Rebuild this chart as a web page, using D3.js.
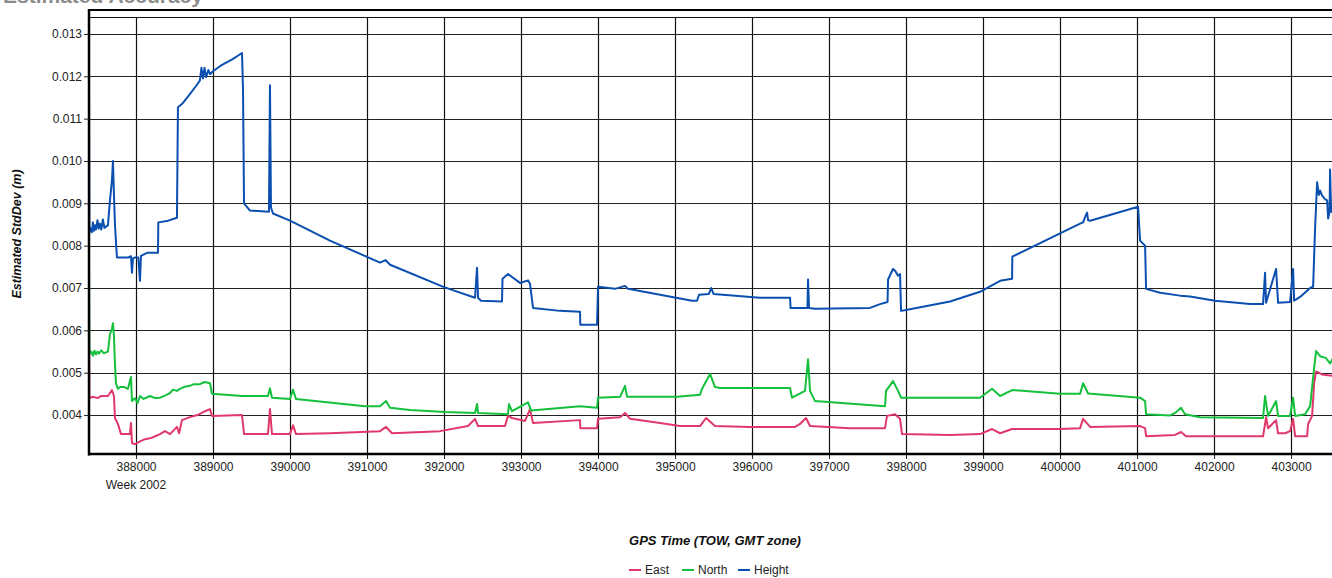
<!DOCTYPE html>
<html><head><meta charset="utf-8">
<script src="https://cdn.jsdelivr.net/npm/d3@7/dist/d3.min.js"></script>
<style>html,body{margin:0;padding:0;background:#fff;overflow:hidden}svg{display:block}text{font-family:"Liberation Sans",Arial,sans-serif}</style>
</head><body><svg id="c" width="1332" height="578"></svg>
<script>
// ---- data ----
const seriesNames = ["East", "North", "Height"];
const seriesColors = ["#e0386a", "#15c03c", "#0b4fb0"];
const xTicks = [388000,389000,390000,391000,392000,393000,394000,395000,396000,397000,398000,399000,400000,401000,402000,403000];
const yTicks = [0.004,0.005,0.006,0.007,0.008,0.009,0.010,0.011,0.012,0.013];
const weekLabel = "Week 2002";

const heightData = [
[387390,0.01219],[387395,0.0083],[387403,0.00843],[387429,0.00832],[387440,0.00855],[387455,0.00835],[387468,0.00848],[387480,0.00838],[387500,0.0086],[387515,0.0084],[387532,0.00852],[387550,0.00838],[387570,0.00862],[387590,0.00842],[387610,0.00845],[387636,0.00848],[387662,0.00907],[387675,0.0093],[387688,0.00954],[387701,0.0100],[387714,0.0092],[387727,0.0085],[387740,0.0081],[387753,0.00772],[387900,0.00772],[387935,0.00775],[387948,0.00736],[387961,0.0077],[387987,0.00772],[388030,0.00772],[388052,0.00717],[388065,0.00776],[388143,0.00783],[388286,0.00783],[388290,0.00855],[388400,0.00858],[388532,0.00866],[388545,0.01127],[388600,0.01135],[388700,0.01158],[388792,0.0118],[388830,0.0119],[388850,0.0122],[388870,0.01195],[388890,0.0122],[388910,0.01198],[388940,0.01215],[388961,0.01205],[389000,0.01212],[389100,0.01225],[389250,0.0124],[389377,0.01255],[389390,0.01167],[389403,0.0090],[389481,0.00883],[389727,0.0088],[389740,0.01179],[389753,0.0089],[389779,0.00876],[390000,0.00859],[390519,0.00812],[391169,0.0076],[391240,0.00766],[391300,0.00755],[392000,0.00702],[392403,0.00677],[392429,0.00748],[392442,0.00677],[392481,0.0067],[392753,0.00668],[392760,0.00722],[392831,0.00733],[392987,0.00712],[393091,0.00718],[393117,0.0071],[393156,0.00653],[393506,0.00646],[393766,0.00644],[393770,0.00613],[393987,0.00613],[394000,0.00703],[394221,0.00698],[394351,0.00705],[394390,0.00698],[395065,0.00675],[395221,0.0067],[395286,0.0067],[395312,0.00684],[395440,0.00686],[395470,0.0070],[395500,0.00686],[396104,0.00677],[396494,0.00677],[396500,0.00653],[396720,0.00653],[396727,0.0072],[396740,0.00653],[396818,0.00651],[397532,0.00653],[397662,0.00662],[397760,0.00667],[397766,0.0072],[397831,0.00745],[397860,0.0074],[397896,0.00729],[397922,0.00733],[397935,0.00646],[398000,0.00648],[398571,0.00668],[398961,0.00691],[399221,0.00717],[399377,0.00722],[399380,0.00774],[400000,0.00829],[400260,0.00852],[400299,0.00855],[400330,0.0087],[400351,0.00878],[400364,0.0086],[400390,0.00859],[401013,0.00892],[401039,0.00812],[401104,0.0080],[401117,0.00698],[401299,0.00689],[401558,0.00682],[401688,0.0068],[402013,0.0067],[402468,0.00662],[402636,0.00662],[402662,0.00736],[402675,0.00665],[402805,0.00745],[402831,0.00665],[402987,0.00667],[403026,0.00745],[403039,0.0067],[403117,0.00679],[403247,0.0070],[403286,0.00703],[403312,0.00843],[403338,0.0095],[403360,0.0092],[403377,0.0093],[403403,0.00918],[403440,0.0091],[403468,0.00907],[403481,0.00864],[403500,0.0088],[403506,0.0098],[403520,0.0088],[403560,0.0088]
];
const northData = [
[387390,0.0081],[387395,0.0055],[387403,0.00546],[387420,0.0055],[387440,0.0054],[387460,0.00552],[387480,0.00543],[387500,0.0055],[387520,0.00545],[387550,0.00553],[387580,0.00546],[387610,0.00548],[387636,0.0055],[387662,0.00591],[387690,0.00605],[387701,0.00617],[387714,0.00587],[387727,0.0052],[387740,0.00475],[387766,0.00462],[387792,0.00466],[387850,0.00466],[387896,0.00462],[387935,0.0049],[387948,0.00433],[387987,0.0044],[388020,0.00428],[388052,0.00445],[388100,0.00438],[388182,0.00445],[388250,0.0044],[388312,0.00441],[388377,0.00446],[388442,0.00452],[388480,0.0046],[388532,0.00457],[388571,0.00462],[388620,0.00466],[388701,0.00469],[388750,0.00473],[388831,0.00473],[388890,0.00478],[388961,0.00475],[388987,0.0045],[389377,0.00445],[389714,0.00445],[389740,0.00463],[389766,0.00441],[390000,0.00438],[390039,0.0046],[390078,0.00438],[390974,0.00421],[391169,0.00421],[391247,0.00433],[391299,0.00417],[391558,0.00412],[392013,0.00407],[392403,0.00405],[392429,0.00426],[392442,0.00405],[392831,0.00402],[392844,0.00426],[392883,0.00409],[393091,0.0043],[393130,0.00411],[393766,0.00421],[393987,0.00417],[394000,0.00441],[394286,0.00443],[394351,0.00469],[394377,0.00443],[395026,0.00443],[395325,0.00448],[395351,0.00462],[395455,0.00497],[395519,0.00466],[395584,0.00464],[396494,0.00464],[396519,0.00441],[396688,0.00457],[396727,0.00532],[396753,0.00457],[396818,0.00433],[397727,0.00421],[397740,0.00457],[397831,0.0048],[397896,0.00457],[397935,0.00441],[398571,0.00441],[398961,0.00441],[399117,0.00462],[399221,0.00445],[399377,0.00459],[400000,0.0045],[400260,0.0045],[400299,0.00475],[400364,0.00451],[401039,0.00441],[401104,0.00433],[401117,0.00402],[401429,0.00399],[401494,0.00405],[401571,0.00417],[401623,0.00402],[401818,0.00395],[402636,0.00393],[402662,0.00445],[402701,0.00398],[402805,0.00433],[402831,0.00398],[402987,0.00398],[403026,0.00441],[403052,0.00398],[403182,0.00402],[403247,0.00421],[403299,0.00511],[403325,0.00551],[403377,0.00539],[403450,0.00535],[403506,0.00522],[403560,0.00539]
];
const eastData = [
[387390,0.00653],[387395,0.0044],[387403,0.00441],[387450,0.00443],[387500,0.0044],[387550,0.00445],[387636,0.00445],[387688,0.00459],[387714,0.00445],[387727,0.00393],[387766,0.00379],[387805,0.00355],[387922,0.00355],[387935,0.00381],[387948,0.00334],[387987,0.00331],[388052,0.00338],[388117,0.00343],[388182,0.00345],[388250,0.0035],[388312,0.00355],[388377,0.00362],[388442,0.00355],[388532,0.00372],[388560,0.00357],[388597,0.00388],[388700,0.00395],[388800,0.0040],[388896,0.00409],[388961,0.00414],[388987,0.00398],[389377,0.0040],[389403,0.00355],[389714,0.00355],[389740,0.00414],[389766,0.00355],[390000,0.00355],[390039,0.00376],[390078,0.00355],[390519,0.00357],[391169,0.00362],[391247,0.00372],[391325,0.00357],[391948,0.00362],[392312,0.00374],[392403,0.00391],[392442,0.00374],[392792,0.00374],[392831,0.00398],[392883,0.00393],[393052,0.00386],[393117,0.00414],[393156,0.00381],[393766,0.00388],[393770,0.00369],[393987,0.00369],[394000,0.00391],[394286,0.00395],[394351,0.00405],[394416,0.00391],[394805,0.00381],[395065,0.00374],[395325,0.00374],[395403,0.00393],[395519,0.00374],[395974,0.00372],[396558,0.00372],[396623,0.00379],[396701,0.00393],[396753,0.00374],[397273,0.00369],[397727,0.00369],[397753,0.00398],[397857,0.00402],[397922,0.00391],[397948,0.00355],[398571,0.00353],[398961,0.00355],[399117,0.00367],[399221,0.00357],[399377,0.00367],[400000,0.00367],[400260,0.00369],[400299,0.00391],[400390,0.00372],[401039,0.00374],[401104,0.00369],[401117,0.0035],[401494,0.00353],[401571,0.0036],[401636,0.0035],[401818,0.0035],[402636,0.0035],[402662,0.00379],[402675,0.00395],[402701,0.00369],[402805,0.00388],[402831,0.00357],[402922,0.00357],[402987,0.00362],[403026,0.00391],[403052,0.0035],[403208,0.0035],[403221,0.00379],[403273,0.00398],[403299,0.00475],[403325,0.00503],[403400,0.00496],[403560,0.00492]
];
const allSeries = [eastData, northData, heightData];

// ---- layout ----
const svg = d3.select("#c");
const L = 89, T = 17, B = 454, R = 1345;
const x = d3.scaleLinear().domain([387390, 403700]).range([L, R]);
const y = d3.scaleLinear().domain([0.00308, 0.0134]).range([B, T]);

// title (cut off at top, as in the source)
svg.append("text").attr("x", 3).attr("y", 3).attr("font-size", 21).attr("font-weight", "bold")
  .attr("fill", "#8c8c8c").text("Estimated Accuracy");

// gridlines
const grid = svg.append("g");
grid.selectAll("line.v").data(xTicks).join("line")
  .attr("x1", d => Math.round(x(d)) + 0.5).attr("x2", d => Math.round(x(d)) + 0.5)
  .attr("y1", T).attr("y2", B).attr("stroke", "#111").attr("stroke-width", 1.2);
grid.selectAll("line.h").data(yTicks).join("line")
  .attr("x1", L).attr("x2", 1332).attr("y1", d => Math.round(y(d)) + 0.5).attr("y2", d => Math.round(y(d)) + 0.5)
  .attr("stroke", "#222").attr("stroke-width", 1.2);
svg.append("line").attr("x1", L).attr("x2", 1332).attr("y1", T + 0.5).attr("y2", T + 0.5).attr("stroke", "#111").attr("stroke-width", 1.2);
svg.append("line").attr("x1", L - 1).attr("x2", 1332).attr("y1", 10).attr("y2", 10).attr("stroke", "#000").attr("stroke-width", 2);

// clip
svg.append("clipPath").attr("id", "clip").append("rect").attr("x", L - 2).attr("y", T - 8).attr("width", 1332 - L + 2).attr("height", B - T + 8);

const line = d3.line().x(d => x(d[0])).y(d => y(d[1]));
const plot = svg.append("g").attr("clip-path", "url(#clip)");
allSeries.forEach((s, i) => {
  plot.append("path").datum(s).attr("d", line).attr("fill", "none")
    .attr("stroke", seriesColors[i]).attr("stroke-width", 2).attr("stroke-linejoin", "round");
});

// axes
const yAxis = d3.axisLeft(y).tickValues(yTicks).tickFormat(d3.format(".3f")).tickSize(5).tickPadding(2);
const yg = svg.append("g").attr("transform", `translate(${L},0)`).call(yAxis);
yg.select(".domain").remove();
yg.selectAll("text").attr("font-size", 12).attr("fill", "#222").attr("font-family", "Liberation Sans, Arial, sans-serif");
yg.selectAll("line").attr("stroke", "#222");

const xAxis = d3.axisBottom(x).tickValues(xTicks).tickFormat(d3.format("d")).tickSize(5).tickPadding(3);
const xg = svg.append("g").attr("transform", `translate(0,${B})`).call(xAxis);
xg.select(".domain").remove();
xg.selectAll("text").attr("font-size", 12).attr("fill", "#222").attr("font-family", "Liberation Sans, Arial, sans-serif");
xg.selectAll("line").attr("stroke", "#222");

svg.append("line").attr("x1", L).attr("x2", L).attr("y1", 9).attr("y2", B + 1.5).attr("stroke", "#000").attr("stroke-width", 2.5);
svg.append("line").attr("x1", L - 1).attr("x2", 1332).attr("y1", B).attr("y2", B).attr("stroke", "#000").attr("stroke-width", 2.5);

svg.append("text").attr("x", x(388000)).attr("y", 489).attr("text-anchor", "middle").attr("font-size", 12).attr("fill", "#222").text(weekLabel);

// axis titles
svg.append("text").attr("transform", "translate(21,234) rotate(-90)").attr("text-anchor", "middle")
  .attr("font-size", 12.5).attr("font-weight", "bold").attr("font-style", "italic").attr("fill", "#111").text("Estimated StdDev (m)");
svg.append("text").attr("x", 715).attr("y", 545).attr("text-anchor", "middle")
  .attr("font-size", 13).attr("font-weight", "bold").attr("font-style", "italic").attr("fill", "#111").text("GPS Time (TOW, GMT zone)");

// legend
const legX = [629, 682, 738];
const lg = svg.append("g");
seriesNames.forEach((n, i) => {
  lg.append("line").attr("x1", legX[i]).attr("x2", legX[i] + 12).attr("y1", 570).attr("y2", 570)
    .attr("stroke", seriesColors[i]).attr("stroke-width", 2);
  lg.append("text").attr("x", legX[i] + 16).attr("y", 574).attr("font-size", 12).attr("fill", "#222").text(n);
});
</script></body></html>
